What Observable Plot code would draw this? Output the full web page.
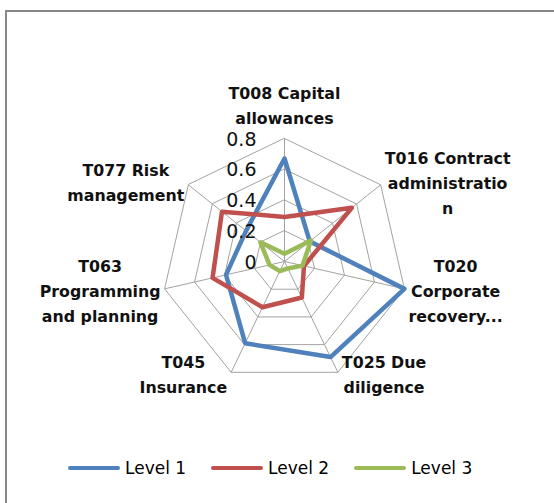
<!DOCTYPE html>
<html><head><meta charset="utf-8">
<script src="https://cdn.jsdelivr.net/npm/d3@7"></script>
<script src="https://cdn.jsdelivr.net/npm/@observablehq/plot@0.6"></script>
<style>
body{margin:0;background:#fff;}
#wrap{position:relative;width:554px;height:503px;overflow:hidden;font-family:"DejaVu Sans",sans-serif;background:#fff;}
#frame{position:absolute;left:5px;top:10px;width:600px;height:600px;border-left:2px solid #878787;border-top:2px solid #878787;}
#chart{position:absolute;left:0;top:0;}
#legend{position:absolute;left:68px;top:456px;display:flex;align-items:center;font-size:17px;height:24px;color:#000;}
.item{display:flex;align-items:center;margin-right:25px;white-space:nowrap;}
.sw{width:52px;height:4px;border-radius:2px;margin-right:5px;}
</style></head><body>
<div id="wrap"><div id="chart"></div><div id="frame"></div><div id="legend"></div></div>
<script>
// ---- data ----
const categories = [
  "T008 Capital\nallowances",
  "T016 Contract\nadministratio\nn",
  "T020\nCorporate\nrecovery...",
  "T025 Due\ndiligence",
  "T045\nInsurance",
  "T063\nProgramming\nand planning",
  "T077 Risk\nmanagement"
];
const seriesNames = ["Level 1", "Level 2", "Level 3"];
const level1 = [0.67, 0.21, 0.80, 0.69, 0.59, 0.39, 0.32];
const level2 = [0.29, 0.56, 0.13, 0.26, 0.33, 0.48, 0.52];
const level3 = [0.05, 0.22, 0.12, 0.05, 0.07, 0.10, 0.20];
const tickValues = [0, 0.2, 0.4, 0.6, 0.8];
const tickLabels = ["0", "0.2", "0.4", "0.6", "0.8"];
const colors = ["#4F81BD", "#C0504D", "#9BBB59"];

// ---- layout ----
const W = 554, H = 440, CX = 284, CY = 261, RPX = 123;
const RMAX = tickValues[tickValues.length - 1];
const k = RPX / RMAX;           // px per unit
const n = categories.length;
const ang = i => 2 * Math.PI * i / n;
const px = (v, i) => v * Math.sin(ang(i));
const py = (v, i) => v * Math.cos(ang(i));

const seriesVals = [level1, level2, level3];
const seriesData = seriesVals.flatMap((vals, s) =>
  vals.map((v, i) => ({series: seriesNames[s], x: px(v, i), y: py(v, i)})));

const ringData = tickValues.filter(t => t > 0).flatMap(t =>
  categories.map((c, i) => ({ring: t, x: px(t, i), y: py(t, i)})));

const spokeData = categories.map((c, i) => ({x2: px(RMAX, i), y2: py(RMAX, i)}));

// category label placement (Excel-like)
const LFS = 15.8, LH = 25;
const ctx = document.createElement("canvas").getContext("2d");
ctx.font = `bold ${LFS}px "DejaVu Sans"`;
const labelData = categories.map((c, i) => {
  const lines = c.split("\n");
  const w = Math.max(...lines.map(l => ctx.measureText(l).width));
  const h = lines.length * LH;
  const sx = Math.sin(ang(i)), sy = -Math.cos(ang(i));
  const vx = RMAX * k * sx, vy = RMAX * k * sy;
  let ox, oy;
  if (Math.abs(sx) < 0.1) { ox = vx; oy = vy + Math.sign(sy) * (h / 2 + 10); }
  else { ox = vx + Math.sign(sx) * (w / 2 + 4); oy = vy + (sy < 0 ? -4 : 0); }
  return {text: c, x: ox / k, y: -oy / k};
});

const chart = Plot.plot({
  width: W, height: H,
  marginTop: 0, marginRight: 0, marginBottom: 0, marginLeft: 0,
  style: {fontFamily: '"DejaVu Sans", sans-serif', background: "transparent", overflow: "visible"},
  x: {domain: [-CX / k, (W - CX) / k], range: [0, W], axis: null},
  y: {domain: [-(H - CY) / k, CY / k], range: [H, 0], axis: null},
  color: {domain: seriesNames, range: colors},
  marks: [
    Plot.line(ringData, {x: "x", y: "y", z: "ring", curve: "linear-closed", stroke: "#a3a3a3", strokeWidth: 1}),
    Plot.link(spokeData, {x1: () => 0, y1: () => 0, x2: "x2", y2: "y2", stroke: "#a3a3a3", strokeWidth: 1}),
    Plot.line(seriesData, {x: "x", y: "y", z: "series", stroke: "series", curve: "linear-closed", strokeWidth: 4.5, strokeLinejoin: "round"}),
    Plot.text(tickValues, {x: () => 0, y: d => d, text: (d, i) => tickLabels[i], textAnchor: "end", dx: -28, dy: 1, fontSize: 19, fill: "#111"}),
    Plot.text(labelData, {x: "x", y: "y", text: "text", textAnchor: "middle", lineAnchor: "middle", lineHeight: LH / LFS, fontSize: LFS, fontWeight: "bold", fill: "#111"})
  ]
});
document.getElementById("chart").appendChild(chart);

const legend = document.getElementById("legend");
seriesNames.forEach((s, i) => {
  const it = document.createElement("div");
  it.className = "item";
  it.innerHTML = `<span class="sw" style="background:${colors[i]}"></span><span>${s}</span>`;
  legend.appendChild(it);
});
</script>
</body></html>
